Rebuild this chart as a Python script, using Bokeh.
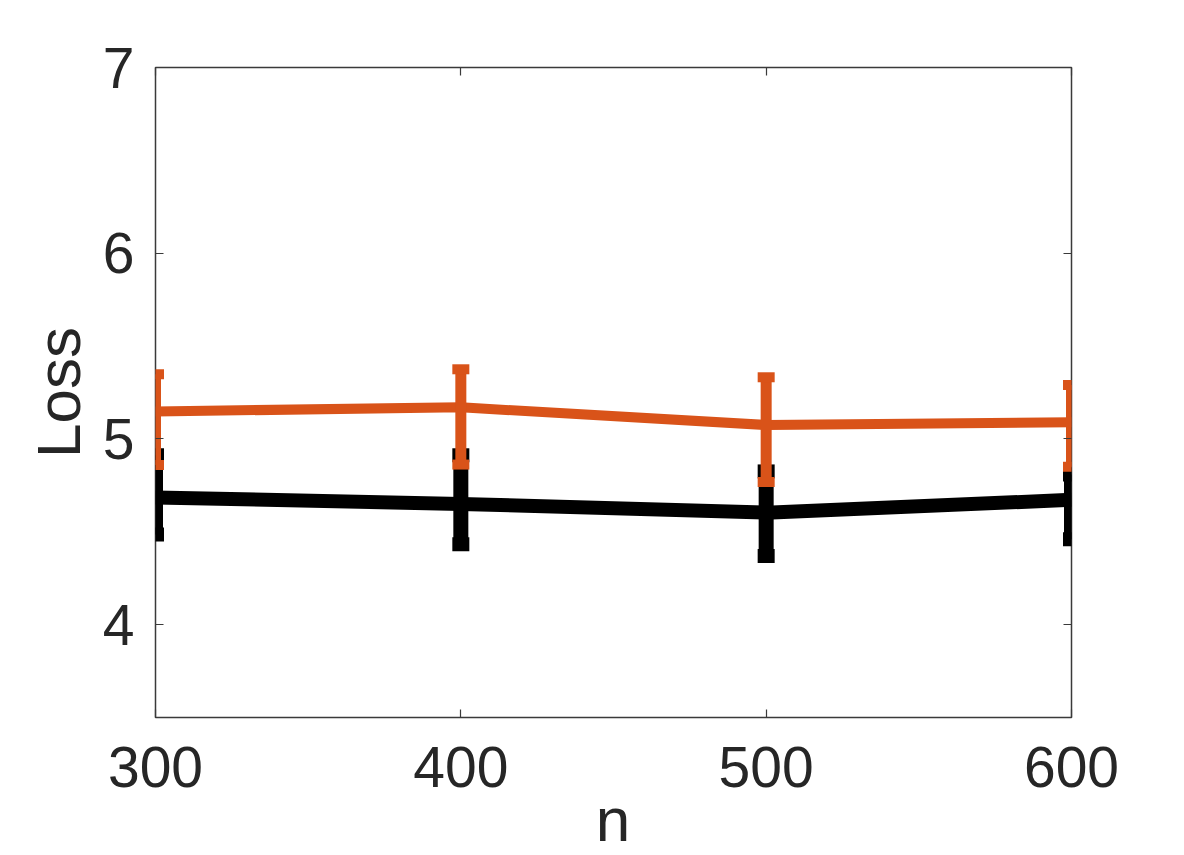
from bokeh.plotting import figure
from bokeh.models import Range1d, LinearAxis, FixedTicker, Div, Spacer
from bokeh.layouts import column, row
from bokeh.embed import file_html
from bokeh.resources import INLINE

# ---- data ----
n_values = [300, 400, 500, 600]
orange_mean = [5.148, 5.170, 5.075, 5.090]
orange_upper = [5.348, 5.375, 5.332, 5.290]
orange_lower = [4.860, 4.862, 4.768, 4.850]
black_mean = [4.685, 4.650, 4.603, 4.672]
black_upper = [4.912, 4.912, 4.825, 4.808]
black_lower = [4.485, 4.433, 4.370, 4.460]
x_ticks = [300, 400, 500, 600]
y_ticks = [4, 5, 6, 7]
x_label = "n"
y_label = "Loss"

ORANGE = "#D95319"
BLACK = "#000000"
TEXT = "#262626"
FONT = "Liberation Sans"

p = figure(width=1184, height=820, output_backend="svg", toolbar_location=None,
           x_range=Range1d(300, 600), y_range=Range1d(3.5, 7),
           min_border_left=155, min_border_right=113, min_border_top=67, min_border_bottom=103)
p.background_fill_color = "white"
p.border_fill_color = "white"
p.grid.visible = False
p.outline_line_color = "#3a3a3a"
p.outline_line_width = 1.5

for ax in (p.xaxis[0], p.yaxis[0]):
    ax.major_tick_in = 8
    ax.major_tick_out = 0
    ax.minor_tick_line_color = None
    ax.axis_line_color = None
    ax.major_tick_line_color = "#3a3a3a"
    ax.major_tick_line_width = 1.2
    ax.major_label_text_font = FONT
    ax.major_label_text_font_size = "57px"
    ax.major_label_text_color = TEXT
    ax.axis_label_text_font = FONT
    ax.axis_label_text_font_size = "62px"
    ax.axis_label_text_font_style = "normal"
    ax.axis_label_text_color = TEXT

p.xaxis[0].ticker = FixedTicker(ticks=x_ticks)
p.yaxis[0].ticker = FixedTicker(ticks=y_ticks)
p.xaxis[0].major_label_standoff = 29
p.yaxis[0].major_label_standoff = 21

p.yaxis[0].axis_label = y_label
p.yaxis[0].axis_label_standoff = 7

# mirrored ticks on top and right
for loc, ticks in (("above", x_ticks), ("right", y_ticks)):
    ax = LinearAxis(ticker=FixedTicker(ticks=ticks))
    ax.major_tick_in = 8
    ax.major_tick_out = 0
    ax.minor_tick_line_color = None
    ax.axis_line_color = None
    ax.major_tick_line_color = "#3a3a3a"
    ax.major_tick_line_width = 1.2
    ax.major_label_overrides = {t: "" for t in ticks}
    ax.major_label_standoff = 0
    p.add_layout(ax, loc)

def series(mean, lower, upper, color, lw):
    p.line(n_values, mean, line_color=color, line_width=lw)
    p.segment(x0=n_values, y0=lower, x1=n_values, y1=upper, line_color=color, line_width=lw + 1)
    p.rect(x=n_values, y=upper, width=17, height=lw, width_units="screen", height_units="screen",
           fill_color=color, line_color=None)
    p.rect(x=n_values, y=lower, width=17, height=lw, width_units="screen", height_units="screen",
           fill_color=color, line_color=None)

series(black_mean, black_lower, black_upper, BLACK, 14)
series(orange_mean, orange_lower, orange_upper, ORANGE, 10)

# x-axis title placed directly under the plot, centred on the frame
xlabel_div = Div(
    text=('<div style="position:relative;top:-36px;font-family:\'Liberation Sans\';font-size:62px;'
          'line-height:71px;color:%s;text-align:center;width:116px;">%s</div>' % (TEXT, x_label)),
    width=116, height=35, margin=0)
bottom = row(Spacer(width=555, height=35, margin=0), xlabel_div, margin=0)
layout = column(p, bottom, margin=0, spacing=0)

open("out.html", "w").write(file_html(layout, INLINE))
